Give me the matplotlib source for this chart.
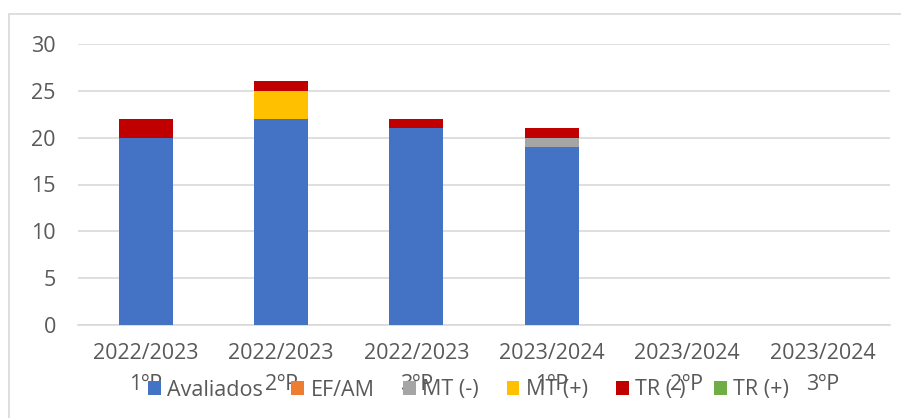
# stacked bars - avaliados e transições por período
import matplotlib.pyplot as plt
from matplotlib.patches import Rectangle
import numpy as np

periodos = ["2022/2023\n1ºP", "2022/2023\n2ºP", "2022/2023\n3ºP",
            "2023/2024\n1ºP", "2023/2024\n2ºP", "2023/2024\n3ºP"]
avaliados = [20, 22, 21, 19, 0, 0]
ef_am = [0, 0, 0, 0, 0, 0]
mt_menos = [0, 0, 0, 1, 0, 0]
mt_mais = [0, 3, 0, 0, 0, 0]
tr_menos = [2, 1, 1, 1, 0, 0]
tr_mais = [0, 0, 0, 0, 0, 0]

series = [
    ("Avaliados", avaliados, "#4472c4"),
    ("EF/AM", ef_am, "#ed7d31"),
    ("MT (-)", mt_menos, "#a5a5a5"),
    ("MT (+)", mt_mais, "#ffc000"),
    ("TR (-)", tr_menos, "#c00000"),
    ("TR (+)", tr_mais, "#70ad47"),
]

plt.rcParams["font.family"] = ["Open Sans", "DejaVu Sans"]
grey = "#595959"
fs = 15.5

fig = plt.figure(figsize=(9.01, 4.18), dpi=100)
fig.patches.append(Rectangle((9/901, -0.1), 1.2, 1 - 14/418 + 0.1,
                             transform=fig.transFigure, fill=False,
                             edgecolor="#d9d9d9", linewidth=1.2))
ax = fig.add_axes([78/901, 1 - 325/418, 812/901, 281/418])

x = np.arange(len(periodos))
bottom = np.zeros(len(periodos))
handles = []
for nome, vals, cor in series:
    h = ax.bar(x, vals, 0.4, bottom=bottom, color=cor, label=nome, zorder=3)
    handles.append(h)
    bottom += np.array(vals)

ax.set_xlim(-0.5, len(periodos) - 0.5)
ax.set_ylim(0, 30)
ax.set_yticks(range(0, 31, 5))
ax.set_xticks(x)
ax.set_xticklabels(periodos, fontsize=fs, color=grey, linespacing=1.6)
ax.tick_params(axis="y", labelsize=fs, labelcolor=grey, length=0, pad=16)
ax.tick_params(axis="x", length=0, pad=13)
ax.grid(axis="y", color="#d9d9d9", linewidth=1.2, zorder=0)
for s in ["top", "right", "left"]:
    ax.spines[s].set_visible(False)
ax.spines["bottom"].set_color("#d9d9d9")
ax.spines["bottom"].set_linewidth(1.2)

fig.legend(handles=handles, loc="center", bbox_to_anchor=(0.52, 1 - 390/418),
           ncol=6, frameon=False, fontsize=fs, labelcolor=grey,
           handlelength=0.6, handleheight=0.6, handletextpad=0.3,
           columnspacing=1.3)

fig.savefig("out.png", dpi=100)
